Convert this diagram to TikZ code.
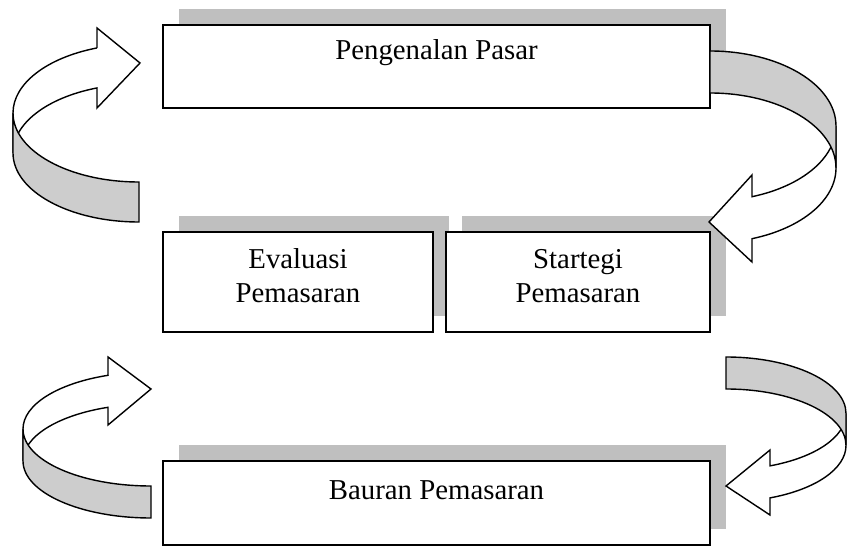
\documentclass[tikz,border=0pt]{standalone}
\usepackage{fontspec}
\setmainfont{Liberation Serif}
\usetikzlibrary{shadows}
\definecolor{shadowgray}{RGB}{191,191,191}
\definecolor{bandgray}{RGB}{205,205,205}
\begin{document}
\begin{tikzpicture}[x=1pt,y=1pt,
  every node/.style={font=\fontsize{28.8}{34}\selectfont},
  stage/.style={draw,line width=1.8pt,fill=white,inner sep=0pt,text height=20pt,
    drop shadow={shadow xshift=16pt,shadow yshift=16pt,opacity=1,fill=shadowgray}},
  ribbon/.style={draw,line width=1.4pt,fill=white},
  band/.style={draw,line width=1.4pt,fill=bandgray}]
\useasboundingbox (0,0) rectangle (847,560);
% kotak tahapan
\node[stage,minimum width=547pt,minimum height=83pt,text depth=33pt] (pasar) at (436.5,493.5) {Pengenalan Pasar};
\node[stage,minimum width=270pt,minimum height=100pt,text width=250pt,align=center,text depth=46pt] (evaluasi) at (298,278) {Evaluasi\\Pemasaran};
\node[stage,minimum width=264pt,minimum height=100pt,text width=250pt,align=center,text depth=46pt] (strategi) at (578,278) {Startegi\\Pemasaran};
\node[stage,minimum width=547pt,minimum height=84pt,text depth=26pt] (bauran) at (436.5,57) {Bauran Pemasaran};
% panah kiri atas
\filldraw[ribbon] (97,512.05) -- (97,532) -- (140,497) -- (97,452) -- (97,472.05)
  arc[start angle=109.47,end angle=180,x radius=126,y radius=69] -- (13,447)
  arc[start angle=180,end angle=109.47,x radius=126,y radius=69] -- cycle;
\filldraw[band] (13,447) arc[start angle=180,end angle=270,x radius=126,y radius=69]
  -- (139,338) arc[start angle=270,end angle=180,x radius=126,y radius=69] -- cycle;
% panah kanan atas
\filldraw[ribbon] (836,434) arc[start angle=0,end angle=-70.53,x radius=126,y radius=75]
  -- (752,385) -- (709,338) -- (752,298) -- (752,321.3)
  arc[start angle=-70.53,end angle=0,x radius=126,y radius=75] -- cycle;
\filldraw[band] (710,509) arc[start angle=90,end angle=0,x radius=126,y radius=75]
  -- (836,392) arc[start angle=0,end angle=90,x radius=126,y radius=75] -- cycle;
% panah kiri bawah
\filldraw[ribbon] (108,184.7) -- (108,203) -- (151,171) -- (108,135) -- (108,152.7)
  arc[start angle=109.63,end angle=180,x radius=128,y radius=57] -- (23,131)
  arc[start angle=180,end angle=109.63,x radius=128,y radius=57] -- cycle;
\filldraw[band] (23,131) arc[start angle=180,end angle=270,x radius=128,y radius=57]
  -- (151,42) arc[start angle=270,end angle=180,x radius=128,y radius=57] -- cycle;
% panah kanan bawah
\filldraw[ribbon] (846,146.6) arc[start angle=0,end angle=-68.49,x radius=120,y radius=56.4]
  -- (770,110) -- (726,74) -- (770,45) -- (770,62.1)
  arc[start angle=-68.49,end angle=0,x radius=120,y radius=56.4] -- cycle;
\filldraw[band] (726,203) arc[start angle=90,end angle=0,x radius=120,y radius=56.4]
  -- (846,114.6) arc[start angle=0,end angle=90,x radius=120,y radius=56.4] -- cycle;
\end{tikzpicture}
\end{document}
